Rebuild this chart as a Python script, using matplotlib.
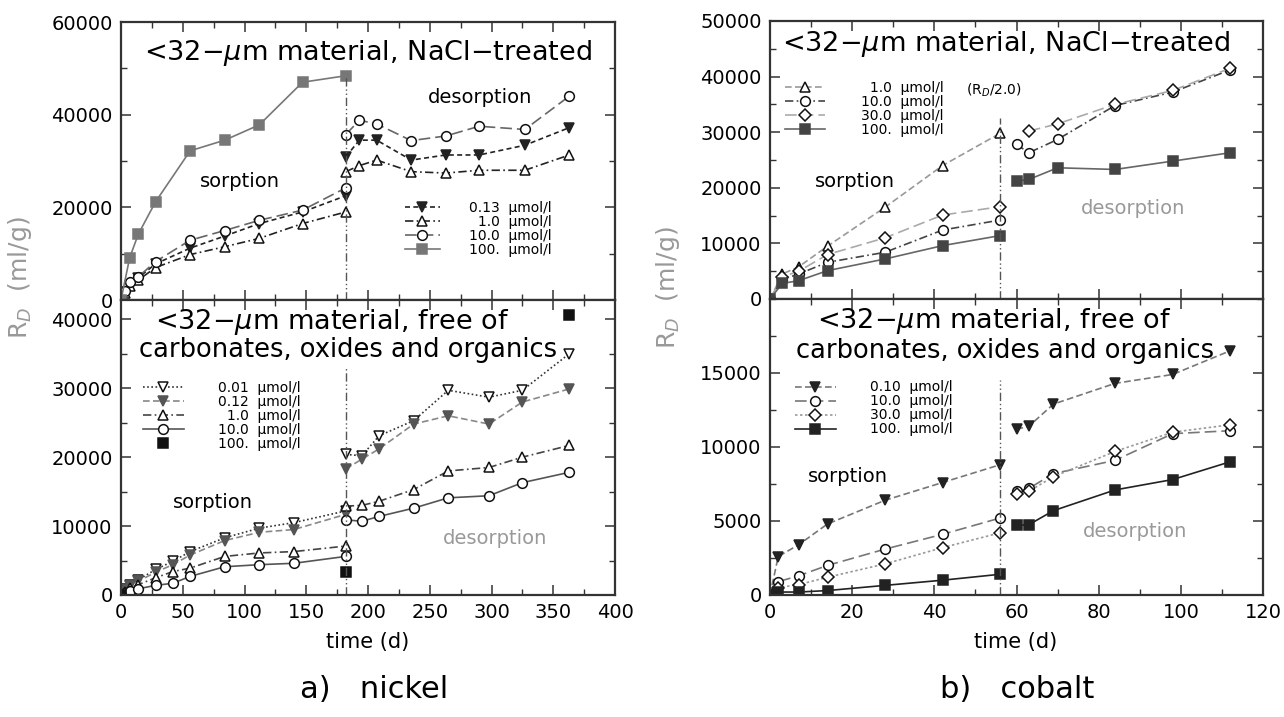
import numpy as np
import matplotlib
matplotlib.use("Agg")
import matplotlib.pyplot as plt
from matplotlib.ticker import MultipleLocator, FixedLocator
from matplotlib.legend_handler import HandlerLine2D

plt.rcParams["font.family"] = ["DejaVu Sans"]
plt.rcParams["mathtext.fontset"] = "dejavusans"

# ---------------- nickel, NaCl-treated (upper left) ----------------
ni_a_conc = ["0.13", "\u20071.0", "10.0", "100."]
ni_a_t = [0, 3, 7, 14, 28, 56, 84, 112, 147, 182]
ni_a_013 = [0, 1800, 3300, 4800, 7800, 11200, 13800, 16500, 19000, 22500]
ni_a_1 = [0, 1500, 3000, 4300, 7000, 9800, 11500, 13300, 16500, 19000]
ni_a_10 = [0, 2000, 3800, 5000, 8300, 12900, 15000, 17200, 19400, 24200]
ni_a_100_t = [0, 7, 14, 28, 56, 84, 112, 147, 182]
ni_a_100 = [0, 9100, 14200, 21200, 32200, 34500, 37800, 47000, 48400]
ni_a_des_t = [182, 193, 207, 235, 263, 290, 327, 363]
ni_a_013_des = [30900, 34500, 34500, 30200, 31300, 31300, 33400, 37200]
ni_a_1_des = [27700, 29000, 30200, 27700, 27400, 28000, 28000, 31300]
ni_a_10_des = [35700, 38800, 38000, 34400, 35400, 37500, 36800, 44000]

# ---------------- nickel, free of carbonates... (lower left) ----------------
ni_b_conc = ["0.01", "0.12", "\u20071.0", "10.0", "100."]
ni_b_t = [0, 3, 7, 14, 28, 42, 56, 84, 112, 140, 182]
ni_b_001 = [0, 800, 1500, 2200, 3700, 4900, 6300, 8300, 9700, 10500, 12200]
ni_b_012 = [0, 700, 1300, 2000, 3300, 4400, 5800, 7900, 9100, 9500, 11700]
ni_b_1 = [0, 500, 1000, 1500, 2500, 3400, 3900, 5600, 6100, 6300, 7100]
ni_b_10 = [0, 300, 600, 900, 1400, 1700, 2700, 4100, 4400, 4600, 5600]
ni_b_100_t = [0, 182, 363]
ni_b_100 = [0, 3400, 40600]
ni_b_des_t = [182, 195, 209, 237, 265, 298, 325, 363]
ni_b_001_des = [20400, 20200, 23100, 25300, 29700, 28700, 29700, 35000]
ni_b_012_des = [18300, 19700, 21200, 24800, 26000, 24800, 28000, 29900]
ni_b_1_des = [12900, 13000, 13600, 15300, 18000, 18500, 20000, 21700]
ni_b_10_des = [10900, 10700, 11400, 12600, 14100, 14400, 16300, 17800]

# ---------------- cobalt, NaCl-treated (upper right) ----------------
co_a_conc = ["\u20071.0", "10.0", "30.0", "100."]
co_a_t = [0, 3, 7, 14, 28, 42, 56]
co_a_1 = [0, 4500, 5800, 9500, 16500, 24000, 29800]
co_a_10 = [0, 3500, 4500, 6600, 8400, 12400, 14200]
co_a_30 = [0, 4000, 5000, 8000, 11000, 15100, 16600]
co_a_100 = [0, 2800, 3300, 5100, 7200, 9600, 11400]
co_a_des_t = [60, 63, 70, 84, 98, 112]
co_a_10_des = [27800, 26300, 28700, 34800, 37200, 41200]
co_a_30_des_t = [63, 70, 84, 98, 112]
co_a_30_des = [30200, 31500, 35000, 37500, 41500]
co_a_100_des = [21200, 21500, 23600, 23300, 24800, 26300]

# ---------------- cobalt, free of carbonates... (lower right) ----------------
co_b_conc = ["0.10", "10.0", "30.0", "100."]
co_b_t = [0, 2, 7, 14, 28, 42, 56]
co_b_010 = [0, 2600, 3400, 4800, 6400, 7600, 8800]
co_b_10 = [0, 900, 1300, 2000, 3100, 4100, 5200]
co_b_30 = [0, 500, 700, 1200, 2100, 3200, 4200]
co_b_100 = [0, 200, 200, 300, 650, 1000, 1400]
co_b_des_t = [60, 63, 69, 84, 98, 112]
co_b_010_des = [11200, 11400, 12900, 14300, 14900, 16500]
co_b_10_des = [7000, 7200, 8200, 9100, 10900, 11100]
co_b_30_des = [6800, 7000, 8000, 9700, 11000, 11500]
co_b_100_des = [4700, 4750, 5700, 7100, 7800, 9000]

# end of sorption step and height of the marker line
ni_split, co_split = 182, 56
ni_a_split_top, ni_b_split_top = 48400, 33000
co_a_split_top, co_b_split_top = 32500, 14500

UNIT = "  \u00b5mol/l"
SPLIT_LS = (0, (6, 2, 1, 2, 1, 2))
LEG_FS = 10


class EndMarker(HandlerLine2D):
    # legend sample: line with the marker at its right end
    def get_xdata(self, legend, xdescent, ydescent, width, height, fontsize):
        return (np.array([-xdescent, -xdescent + width]),
                np.array([-xdescent + width]))


def st(color, ls, marker, mfc=None, ms=7):
    return dict(color=color, ls=ls, lw=1.2, marker=marker, ms=ms,
                mfc=mfc if mfc is not None else color, mec="#111" if mfc == "white" else color,
                mew=1.1)


def style_axes(ax, xmax, xmaj, xmin, ymax, ymaj, ymin, show_x):
    ax.set_xlim(0, xmax)
    ax.set_ylim(0, ymax)
    ax.xaxis.set_major_locator(MultipleLocator(xmaj))
    ax.xaxis.set_minor_locator(MultipleLocator(xmin))
    ax.yaxis.set_major_locator(FixedLocator(ymaj))
    ax.yaxis.set_minor_locator(MultipleLocator(ymin))
    ax.tick_params(which="both", direction="in", top=True, right=True,
                   labelsize=14, pad=6, color="#333")
    ax.tick_params(which="major", length=7, width=1.1)
    ax.tick_params(which="minor", length=4, width=1)
    if not show_x:
        ax.tick_params(labelbottom=False)
    for s in ax.spines.values():
        s.set_linewidth(1.6)
        s.set_color("#333")


def legend(ax, handles, labels, x, y, hl, pad):
    return ax.legend(handles, [c + UNIT for c in labels], loc="upper left",
                     bbox_to_anchor=(x, y), frameon=False, fontsize=LEG_FS,
                     handlelength=hl, handletextpad=pad, labelspacing=0.0,
                     borderpad=0, borderaxespad=0, numpoints=1,
                     handler_map={matplotlib.lines.Line2D: EndMarker()})


fig = plt.figure(figsize=(12.84, 7.17), dpi=100)
W, H = 1284, 717


def add_ax(x0, x1, y0, y1):
    return fig.add_axes([x0 / W, 1 - y1 / H, (x1 - x0) / W, (y1 - y0) / H])


ax_ul = add_ax(121, 615, 22, 300)
ax_ll = add_ax(121, 615, 300, 595)
ax_ur = add_ax(770, 1263, 21, 299)
ax_lr = add_ax(770, 1263, 299, 595)

TITLE_FS, SUB_FS, NOTE_FS = 19.5, 18.5, 14

# ---------- upper left ----------
ax = ax_ul
s013 = st("#222", (0, (3, 2)), "v", ms=7)
s1 = st("#222", (0, (5, 2, 1, 2)), "^", mfc="white")
s10 = st("#666", (0, (7, 3)), "o", mfc="white")
s100 = st("#777", "-", "s", ms=6.5)
h = []
for t, v, s in [(ni_a_t, ni_a_013, s013), (ni_a_t, ni_a_1, s1), (ni_a_t, ni_a_10, s10),
                (ni_a_100_t, ni_a_100, s100)]:
    h.append(ax.plot(t, v, **s)[0])
for v, s in [(ni_a_013_des, s013), (ni_a_1_des, s1), (ni_a_10_des, s10)]:
    ax.plot(ni_a_des_t, v, **s)
ax.vlines(ni_split, 0, ni_a_split_top, color="#555", lw=1, ls=SPLIT_LS)
style_axes(ax, 400, 50, 25, 60000, [0, 20000, 40000, 60000], 10000, False)
legend(ax, h, ni_a_conc, 0.575, 0.355, 2.5, 2.1)
ax.text(0.50, 0.89, r"<32$-\mu$m material, NaCl$-$treated", transform=ax.transAxes,
        ha="center", va="center", fontsize=TITLE_FS)
ax.text(0.241, 0.428, "sorption", transform=ax.transAxes, ha="center", va="center", fontsize=NOTE_FS)
ax.text(0.727, 0.73, "desorption", transform=ax.transAxes, ha="center", va="center", fontsize=NOTE_FS)

# ---------- lower left ----------
ax = ax_ll
s001 = st("#333", (0, (1, 1.5)), "v", mfc="white")
s012 = st("#888", (0, (4, 2)), "v", ms=7)
s012["mec"] = s012["mfc"] = "#555"
s1 = st("#444", (0, (5, 2, 1, 2)), "^", mfc="white")
s10 = st("#555", "-", "o", mfc="white")
s100 = st("#111", "none", "s", ms=6.5)
h = []
for t, v, s in [(ni_b_t, ni_b_001, s001), (ni_b_t, ni_b_012, s012), (ni_b_t, ni_b_1, s1),
                (ni_b_t, ni_b_10, s10), (ni_b_100_t, ni_b_100, s100)]:
    h.append(ax.plot(t, v, **s)[0])
for v, s in [(ni_b_001_des, s001), (ni_b_012_des, s012), (ni_b_1_des, s1), (ni_b_10_des, s10)]:
    ax.plot(ni_b_des_t, v, **s)
ax.vlines(ni_split, 0, ni_b_split_top, color="#555", lw=1, ls=SPLIT_LS)
style_axes(ax, 400, 50, 25, 42800, [0, 10000, 20000, 30000, 40000], 5000, True)
legend(ax, h, ni_b_conc, 0.045, 0.725, 2.9, 2.5)
ax.text(0.427, 0.925, r"<32$-\mu$m material, free of", transform=ax.transAxes,
        ha="center", va="center", fontsize=TITLE_FS)
ax.text(0.46, 0.83, "carbonates, oxides and organics", transform=ax.transAxes,
        ha="center", va="center", fontsize=SUB_FS)
ax.text(0.186, 0.315, "sorption", transform=ax.transAxes, ha="center", va="center", fontsize=NOTE_FS)
ax.text(0.757, 0.193, "desorption", transform=ax.transAxes, ha="center", va="center",
        fontsize=NOTE_FS, color="#999")

# ---------- upper right ----------
ax = ax_ur
s1 = st("#999", (0, (4, 2)), "^", mfc="white")
s10 = st("#444", (0, (5, 2, 1, 2)), "o", mfc="white")
s30 = st("#aaa", (0, (7, 3)), "D", mfc="white", ms=6)
s100 = st("#666", "-", "s", ms=6.5)
s100["mfc"] = s100["mec"] = "#444"
h = []
for v, s in [(co_a_1, s1), (co_a_10, s10), (co_a_30, s30), (co_a_100, s100)]:
    h.append(ax.plot(co_a_t, v, **s)[0])
ax.plot(co_a_des_t, co_a_10_des, **s10)
ax.plot(co_a_30_des_t, co_a_30_des, **s30)
ax.plot(co_a_des_t, co_a_100_des, **s100)
ax.vlines(co_split, 0, co_a_split_top, color="#555", lw=1, ls=SPLIT_LS)
style_axes(ax, 120, 20, 10, 50000, [0, 10000, 20000, 30000, 40000, 50000], 5000, False)
legend(ax, h, co_a_conc, 0.03, 0.785, 2.9, 2.6)
ax.text(0.398, 0.752, r"(R$_D$/2.0)", transform=ax.transAxes, ha="left", va="center",
        fontsize=LEG_FS)
ax.text(0.479, 0.917, r"<32$-\mu$m material, NaCl$-$treated", transform=ax.transAxes,
        ha="center", va="center", fontsize=TITLE_FS)
ax.text(0.172, 0.424, "sorption", transform=ax.transAxes, ha="center", va="center", fontsize=NOTE_FS)
ax.text(0.736, 0.327, "desorption", transform=ax.transAxes, ha="center", va="center",
        fontsize=NOTE_FS, color="#999")

# ---------- lower right ----------
ax = ax_lr
s010 = st("#777", (0, (4, 2)), "v", ms=7)
s010["mfc"] = s010["mec"] = "#222"
s10 = st("#777", (0, (7, 3)), "o", mfc="white")
s30 = st("#999", (0, (1.5, 1.5)), "D", mfc="white", ms=6)
s100 = st("#222", "-", "s", ms=6.5)
h = []
for v, s in [(co_b_010, s010), (co_b_10, s10), (co_b_30, s30), (co_b_100, s100)]:
    h.append(ax.plot(co_b_t, v, **s)[0])
for v, s in [(co_b_010_des, s010), (co_b_10_des, s10), (co_b_30_des, s30), (co_b_100_des, s100)]:
    ax.plot(co_b_des_t, v, **s)
ax.vlines(co_split, 0, co_b_split_top, color="#555", lw=1, ls=SPLIT_LS)
style_axes(ax, 120, 20, 10, 20000, [0, 5000, 10000, 15000], 2500, True)
legend(ax, h, co_b_conc, 0.05, 0.725, 3.0, 2.4)
ax.text(0.454, 0.925, r"<32$-\mu$m material, free of", transform=ax.transAxes,
        ha="center", va="center", fontsize=TITLE_FS)
ax.text(0.477, 0.824, "carbonates, oxides and organics", transform=ax.transAxes,
        ha="center", va="center", fontsize=SUB_FS)
ax.text(0.158, 0.40, "sorption", transform=ax.transAxes, ha="center", va="center", fontsize=NOTE_FS)
ax.text(0.74, 0.213, "desorption", transform=ax.transAxes, ha="center", va="center",
        fontsize=NOTE_FS, color="#999")

# ---------- shared labels ----------
for x, y in [(20, 278), (668, 288)]:
    fig.text(x / W, 1 - y / H, r"R$_D$  (ml/g)", rotation=90, ha="center", va="center",
             fontsize=18, color="#999")
for x in [368, 1016]:
    fig.text(x / W, 1 - 642 / H, "time (d)", ha="center", va="center", fontsize=15)
fig.text(374 / W, 1 - 690 / H, "a)   nickel", ha="center", va="center", fontsize=22)
fig.text(1017 / W, 1 - 690 / H, "b)   cobalt", ha="center", va="center", fontsize=22)

fig.savefig("out.png", dpi=100)
